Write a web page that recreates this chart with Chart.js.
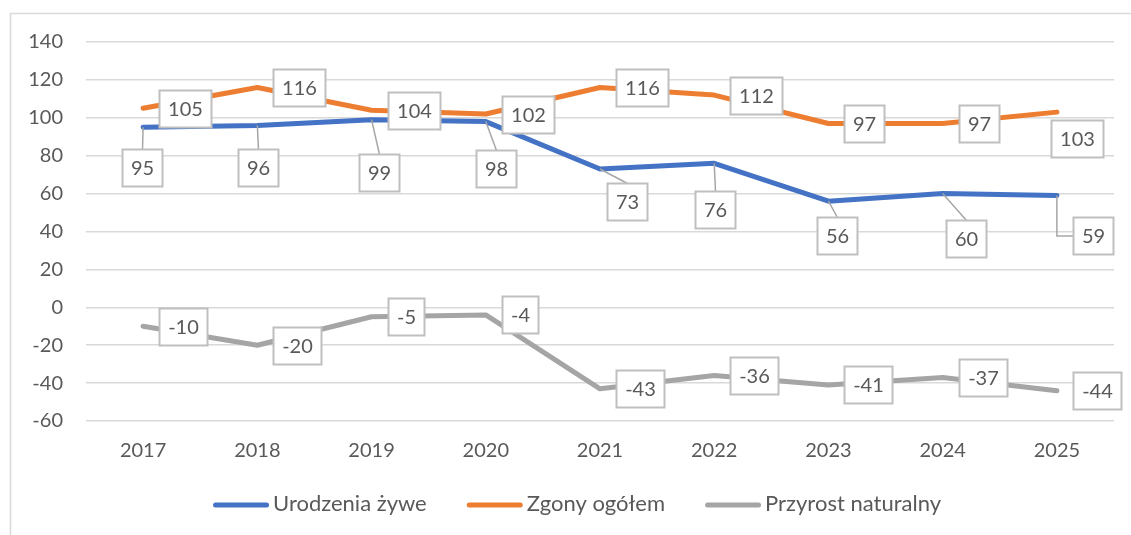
<!DOCTYPE html>
<html>
<head>
<meta charset="utf-8">
<script src="https://cdn.jsdelivr.net/npm/chart.js@4.4.1/dist/chart.umd.min.js"></script>
<style>
  html, body { margin: 0; padding: 0; background: #ffffff; }
  #wrap { width: 1131px; height: 535px; position: relative; }
</style>
</head>
<body>
<div id="wrap"><canvas id="c"></canvas></div>
<script>
const categories = ['2017', '2018', '2019', '2020', '2021', '2022', '2023', '2024', '2025'];
const urodzenia = [95, 96, 99, 98, 73, 76, 56, 60, 59];
const zgony = [105, 116, 104, 102, 116, 112, 97, 97, 103];
const przyrost = [-10, -20, -5, -4, -43, -36, -41, -37, -44];
const seriesNames = ['Urodzenia żywe', 'Zgony ogółem', 'Przyrost naturalny'];
const yTicks = { min: -60, max: 140, step: 20 };

const FONT = 'Lato, "Open Sans", sans-serif';
const TEXT = '#595959';
const COLORS = ['#4472C4', '#ED7D31', '#A5A5A5'];

// label placement (offsets of label box centre relative to point, for leader-line labels)
const labelPlacement = [
  { mode: 'offset', offsets: [[-1,40],[1,42],[7,53],[10,47],[27,33],[1,46],[9,34],[23,45],[36,40]] },
  { mode: 'right', overrides: { 8: [20, 26] } },
  { mode: 'right', overrides: {} }
];

const borderPlugin = {
  id: 'outerBorder',
  beforeDraw(chart) {
    const ctx = chart.ctx;
    ctx.save();
    ctx.strokeStyle = '#d9d9d9';
    ctx.lineWidth = 1.5;
    ctx.beginPath();
    ctx.moveTo(10.5, 535);
    ctx.lineTo(10.5, 13.5);
    ctx.lineTo(1131, 13.5);
    ctx.stroke();
    ctx.restore();
  }
};

const labelPlugin = {
  id: 'boxLabels',
  afterDatasetsDraw(chart) {
    const ctx = chart.ctx;
    ctx.save();
    ctx.font = '20px ' + FONT;
    ctx.textAlign = 'center';
    ctx.textBaseline = 'middle';
    const boxes = [];
    chart.data.datasets.forEach((ds, di) => {
      const meta = chart.getDatasetMeta(di);
      const pl = labelPlacement[di];
      meta.data.forEach((pt, i) => {
        const txt = String(ds.data[i]);
        const tw = ctx.measureText(txt).width;
        const w = Math.round(tw + 17);
        const h = 37;
        let cx, cy;
        if (pl.mode === 'right') {
          if (pl.overrides[i]) {
            cx = pt.x + pl.overrides[i][0];
            cy = pt.y + pl.overrides[i][1];
          } else {
            cx = pt.x + 16 + w / 2;
            cy = pt.y;
          }
        } else {
          cx = pt.x + pl.offsets[i][0];
          cy = pt.y + pl.offsets[i][1];
        }
        const left = Math.round(cx - w / 2) + 0.5;
        const top = Math.round(cy - h / 2) + 0.5;
        if (pl.mode === 'offset') {
          ctx.strokeStyle = '#a6a6a6';
          ctx.lineWidth = 1.5;
          ctx.beginPath();
          ctx.moveTo(pt.x, pt.y);
          if (pt.x < left - 10) {
            ctx.lineTo(pt.x, top + h / 2);
            ctx.lineTo(left, top + h / 2);
          } else {
            ctx.lineTo(left + w / 2, top);
          }
          ctx.stroke();
        }
        boxes.push({ left, top, w, h, txt });
      });
    });
    boxes.forEach(b => {
      ctx.fillStyle = '#ffffff';
      ctx.fillRect(b.left, b.top, b.w, b.h);
      ctx.strokeStyle = '#bfbfbf';
      ctx.lineWidth = 2;
      ctx.strokeRect(b.left, b.top, b.w, b.h);
      ctx.fillStyle = TEXT;
      ctx.fillText(b.txt, b.left + b.w / 2, b.top + b.h / 2 + 1);
    });
    ctx.restore();
  }
};

const legendPlugin = {
  id: 'customLegend',
  afterDraw(chart) {
    const ctx = chart.ctx;
    ctx.save();
    ctx.font = '22px ' + FONT;
    ctx.textBaseline = 'middle';
    ctx.textAlign = 'left';
    const lineLen = 56, gapLT = 4, gapItems = 40;
    const items = chart.data.datasets.map((ds) => ({ label: ds.label, color: ds.borderColor, tw: ctx.measureText(ds.label).width }));
    const total = items.reduce((s, it) => s + lineLen + gapLT + it.tw, 0) + gapItems * (items.length - 1);
    let x = 577 - total / 2;
    const y = 504;
    items.forEach(it => {
      ctx.strokeStyle = it.color;
      ctx.lineWidth = 5;
      ctx.lineCap = 'round';
      ctx.beginPath();
      ctx.moveTo(x + 2.5, y + 1);
      ctx.lineTo(x + lineLen - 2.5, y + 1);
      ctx.stroke();
      ctx.fillStyle = TEXT;
      ctx.fillText(it.label, x + lineLen + gapLT, y);
      x += lineLen + gapLT + it.tw + gapItems;
    });
    ctx.restore();
  }
};

const mk = (label, data, color) => ({
  label, data,
  borderColor: color,
  backgroundColor: color,
  borderWidth: 5,
  borderCapStyle: 'round',
  borderJoinStyle: 'round',
  pointRadius: 0,
  pointHoverRadius: 0,
  tension: 0,
  fill: false
});

new Chart(document.getElementById('c'), {
  type: 'line',
  data: {
    labels: categories,
    datasets: [
      mk(seriesNames[0], urodzenia, COLORS[0]),
      mk(seriesNames[1], zgony, COLORS[1]),
      mk(seriesNames[2], przyrost, COLORS[2])
    ]
  },
  options: {
    responsive: true,
    maintainAspectRatio: false,
    animation: false,
    events: [],
    layout: { padding: { left: 10, right: 17, top: 42, bottom: 54 } },
    plugins: {
      legend: { display: false },
      tooltip: { enabled: false },
      title: { display: false }
    },
    scales: {
      x: {
        offset: true,
        grid: { display: false, drawTicks: false },
        border: { display: false },
        ticks: { color: TEXT, font: { family: FONT, size: 20 }, padding: 18, maxRotation: 0 },
        afterFit(scale) { scale.height = 60; }
      },
      y: {
        min: yTicks.min,
        max: yTicks.max,
        grid: { color: '#d9d9d9', lineWidth: 1.5, drawTicks: false },
        border: { display: false },
        ticks: { stepSize: yTicks.step, color: TEXT, font: { family: FONT, size: 20 }, padding: 23 },
        afterFit(scale) { scale.width = 76; }
      }
    }
  },
  plugins: [borderPlugin, labelPlugin, legendPlugin]
});
</script>
</body>
</html>
